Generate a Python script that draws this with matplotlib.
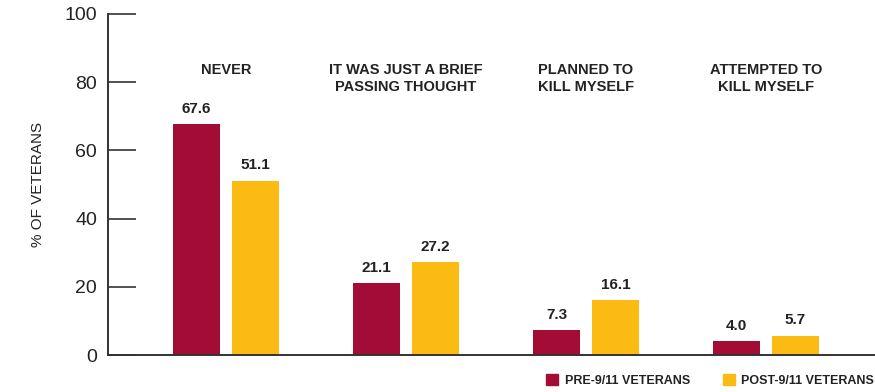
import matplotlib
matplotlib.use("Agg")
import matplotlib.pyplot as plt
from matplotlib.patches import Patch
import numpy as np

categories = ["NEVER", "IT WAS JUST A BRIEF\nPASSING THOUGHT", "PLANNED TO\nKILL MYSELF", "ATTEMPTED TO\nKILL MYSELF"]
series_names = ["PRE-9/11 VETERANS", "POST-9/11 VETERANS"]
pre_values = [67.6, 21.1, 7.3, 4.0]
post_values = [51.1, 27.2, 16.1, 5.7]
yticks = [0, 20, 40, 60, 80, 100]

RED = "#A30D35"
YEL = "#FCBB12"
TXT = "#222222"

plt.rcParams['font.family'] = ['Liberation Sans', 'DejaVu Sans']

fig = plt.figure(figsize=(8.75, 3.92), dpi=100)
ax = fig.add_axes([108/875, 37/392, 1 - 108/875, 341/392])

x = np.arange(len(categories))
w = 0.261
off = 0.164
b1 = ax.bar(x - off, pre_values, w, color=RED)
b2 = ax.bar(x + off, post_values, w, color=YEL)

for bars, vals in ((b1, pre_values), (b2, post_values)):
    for r, v in zip(bars, vals):
        ax.annotate(f"{v:.1f}", (r.get_x() + r.get_width()/2, r.get_height()),
                    xytext=(0, 6), textcoords="offset points", ha="center", va="bottom",
                    fontsize=11, fontweight="bold", color=TXT)

for xi, c in zip(x, categories):
    ax.text(xi, 85.5, c, ha="center", va="top", fontsize=10.5, fontweight="bold",
            color=TXT, linespacing=1.2)

ax.set_xlim(-0.656, 3.606)
ax.set_ylim(0, 100)
ax.set_yticks(yticks)
ax.set_yticklabels([str(t) for t in yticks], fontsize=14, color=TXT)
ax.tick_params(axis="y", direction="in", length=20, width=1.2, color="#333333", pad=8)
ax.set_xticks([])
for s in ("top", "right"):
    ax.spines[s].set_visible(False)
for s in ("left", "bottom"):
    ax.spines[s].set_color("#333333")
    ax.spines[s].set_linewidth(1.4)
ax.set_ylabel("% OF VETERANS", fontsize=11, color=TXT, labelpad=14)

handles = [Patch(color=RED), Patch(color=YEL)]
leg = fig.legend(handles, series_names, loc="lower right", bbox_to_anchor=(1.012, -0.015),
                 ncol=2, frameon=False, handlelength=0.95, handleheight=0.95,
                 handletextpad=0.55, columnspacing=2.6,
                 prop={"size": 9, "weight": "bold"})
for t in leg.get_texts():
    t.set_color(TXT)

fig.savefig("out.png", dpi=100)
